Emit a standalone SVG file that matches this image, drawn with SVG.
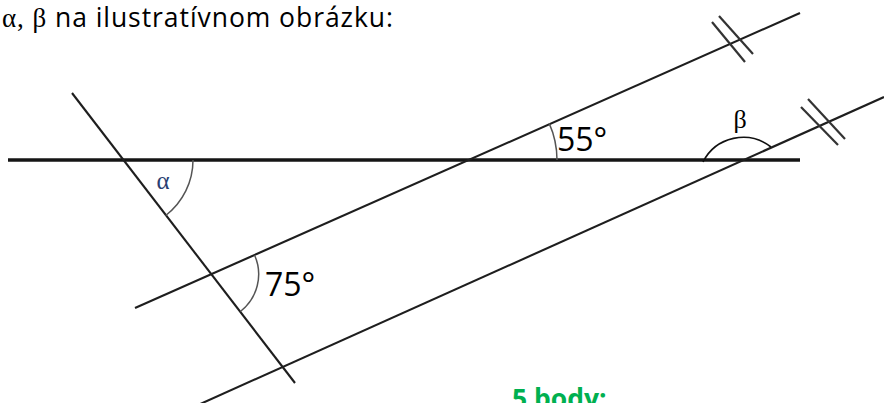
<svg xmlns="http://www.w3.org/2000/svg" width="884" height="403" viewBox="0 0 884 403">
<style>
.ln{stroke:#1e1e1e;stroke-width:2.1;stroke-linecap:butt;fill:none}
.hz{stroke:#151515;stroke-width:3.6;fill:none}
.tk{stroke:#333;stroke-width:2.2;fill:none}
.arc{stroke:#555;stroke-width:1.5;fill:none}
.arcb{stroke:#111;stroke-width:1.6;fill:none}
.sans{font-family:"Open Sans","Noto Sans","Liberation Sans",sans-serif;fill:#000}
.serif{font-family:"Liberation Serif","DejaVu Serif",serif}
</style>
<rect width="884" height="403" fill="#fff"/>
<g id="header">
<text x="2" y="27" class="sans" font-size="26.5" textLength="391" lengthAdjust="spacing"><tspan class="serif" font-size="27">α, β</tspan> na ilustratívnom obrázku:</text>
</g>
<g id="lines">
<line class="hz" x1="8" y1="160" x2="800" y2="160"/>
<line class="ln" x1="72" y1="93" x2="295" y2="383"/>
<line class="ln" x1="135" y1="308" x2="800" y2="13"/>
<line class="ln" x1="198" y1="405" x2="884" y2="97"/>
</g>
<g id="ticks">
<line class="tk" x1="712" y1="22" x2="745" y2="62"/>
<line class="tk" x1="719" y1="16" x2="753" y2="54"/>
<line class="tk" x1="801" y1="107" x2="838" y2="145"/>
<line class="tk" x1="808" y1="99" x2="845" y2="139"/>
</g>
<g id="angle-alpha">
<path class="arc" d="M193,160 A70,70 0 0 1 165.7,215.5"/>
<text x="163" y="189" class="serif" font-size="25" text-anchor="middle" fill="#2b3f73">α</text>
</g>
<g id="angle-55">
<path class="arc" d="M557,160 A90,90 0 0 0 549.2,123.4"/>
<text x="557" y="151" class="sans" font-size="32">55°</text>
</g>
<g id="angle-75">
<path class="arc" d="M254.6,255.2 A47,47 0 0 1 240.4,311.5"/>
<text x="265" y="296" class="sans" font-size="32">75°</text>
</g>
<g id="angle-beta">
<path class="arcb" d="M703,162 A45,45 0 0 1 771,147"/>
<text x="740" y="128" class="serif" font-size="26" text-anchor="middle" fill="#000">β</text>
</g>
<g id="points">
<text x="512" y="408" class="sans" font-size="26.5" font-weight="bold" style="fill:#00b050">5 body:</text>
</g>
</svg>
